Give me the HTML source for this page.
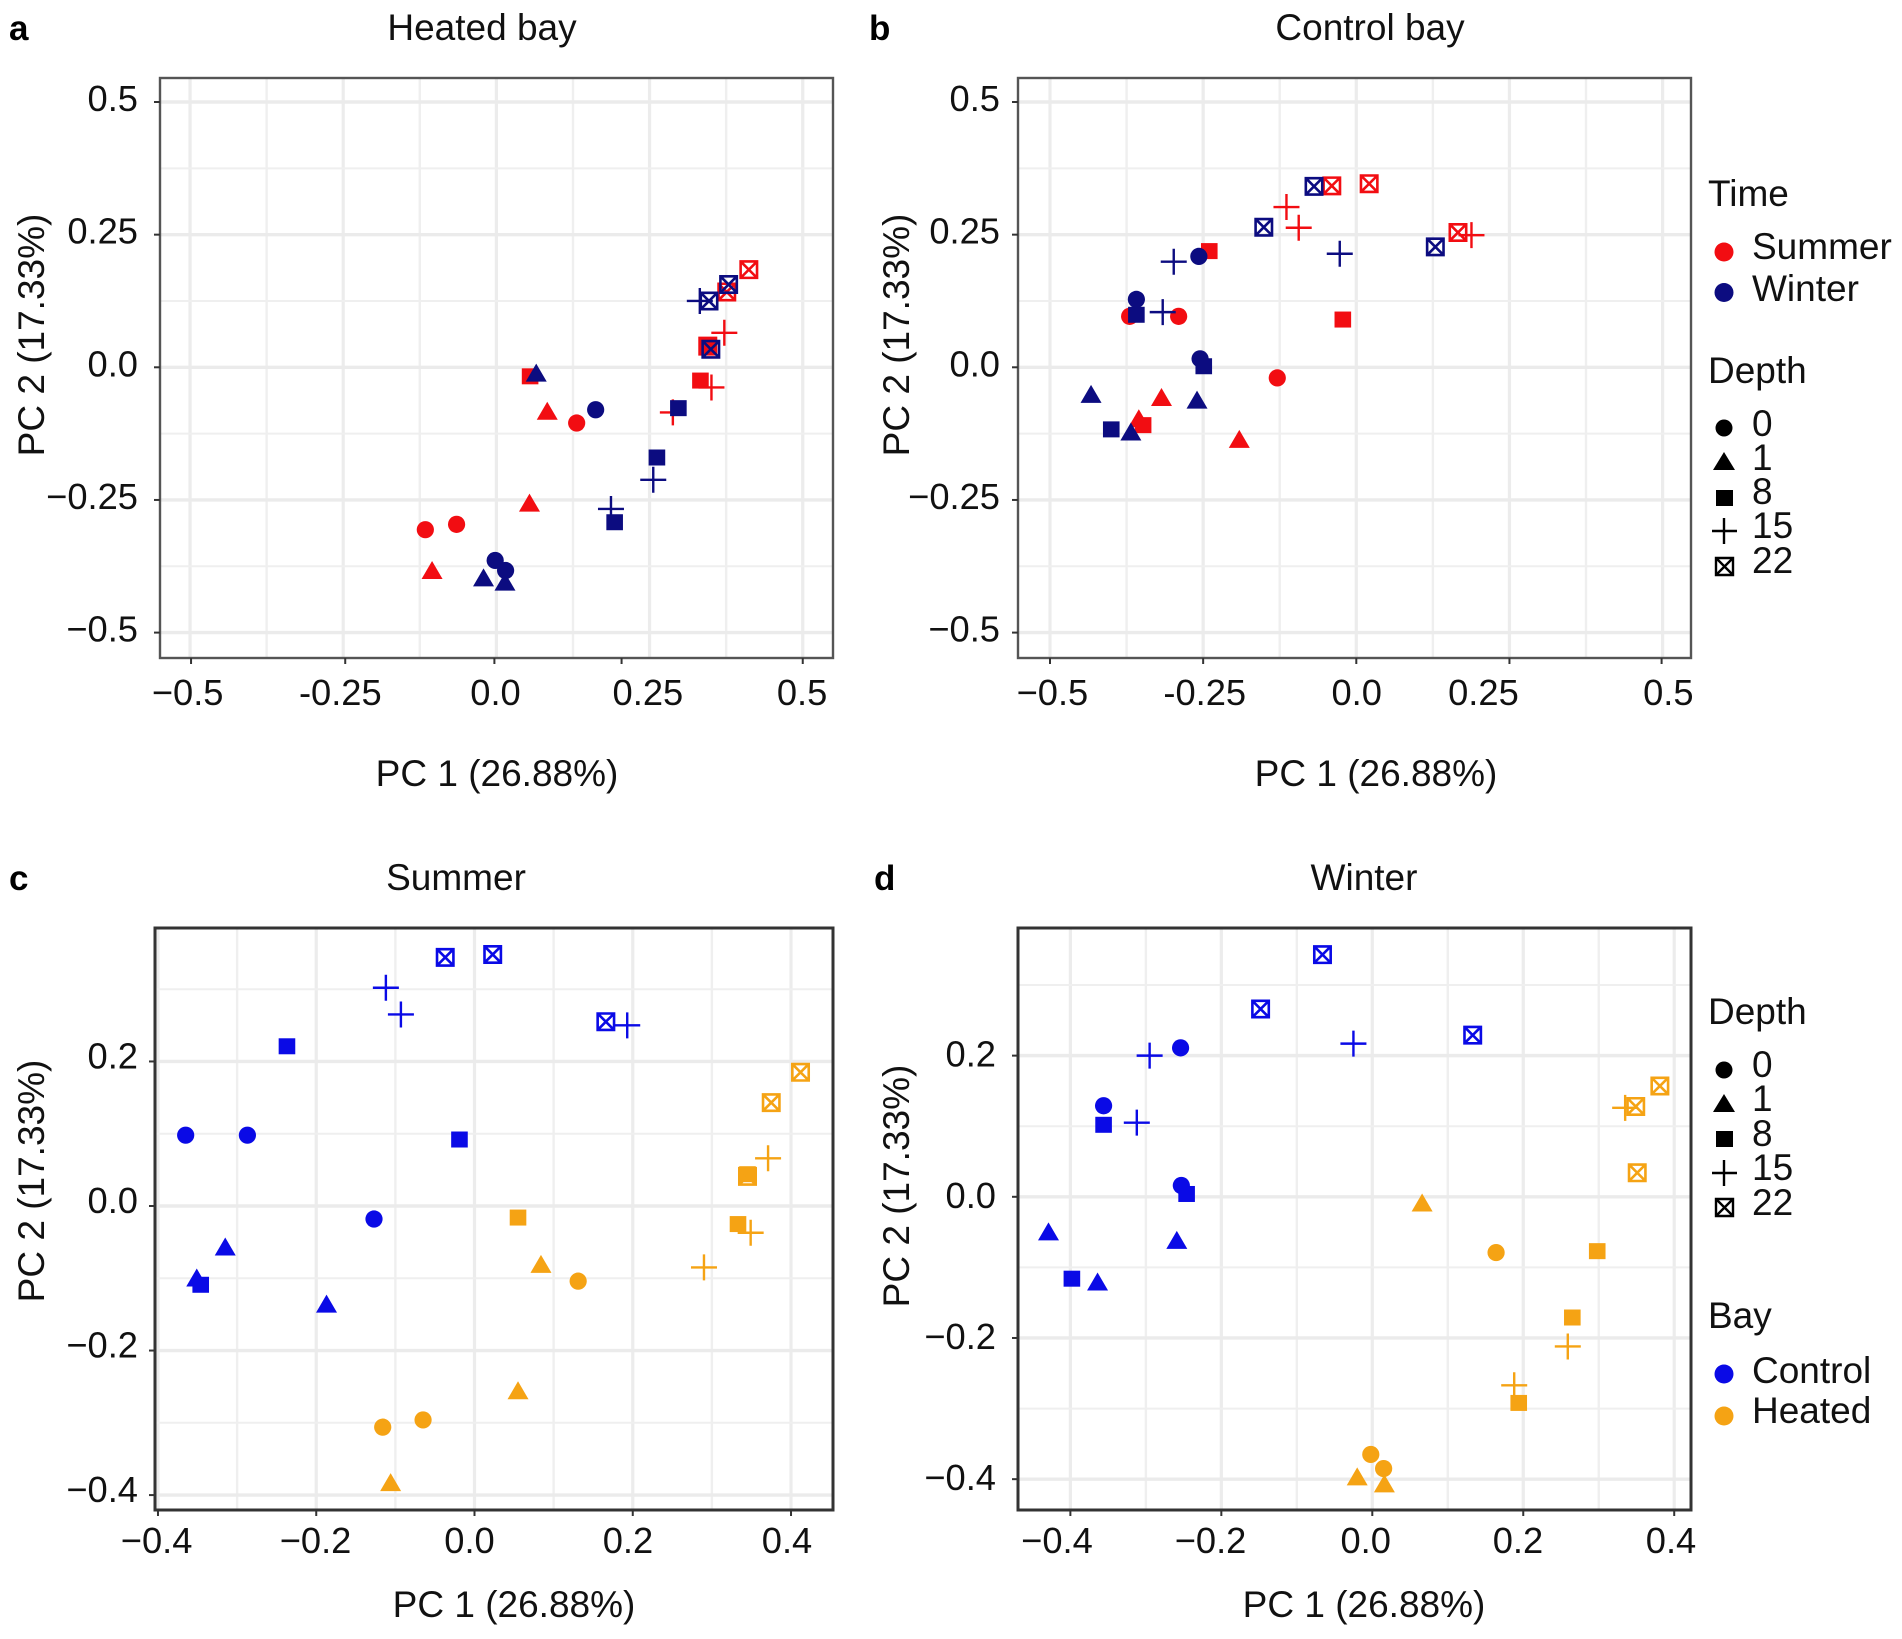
<!DOCTYPE html>
<html lang="en">
<head>
<meta charset="utf-8">
<title>PCA of heated and control bays</title>
<style>
html,body{margin:0;padding:0;background:#fff;}
svg{display:block;}
text{font-family:"Liberation Sans",Arial,sans-serif;font-size:37px;fill:#111;}
.tick-label{font-size:36.3px;}
.letter{font-weight:bold;font-size:35px;fill:#000;}
</style>
</head>
<body>
<svg id="figure" xmlns="http://www.w3.org/2000/svg" width="1902" height="1639" viewBox="0 0 1902 1639">
<rect x="0" y="0" width="1902" height="1639" fill="#fff"/>
<g id="panels"></g>

<text class="letter" x="9" y="40">a</text>
<text class="letter" x="869" y="40">b</text>
<text class="letter" x="9" y="890">c</text>
<text class="letter" x="874" y="890">d</text>

<text x="482" y="40" text-anchor="middle">Heated bay</text>
<text x="1370" y="40" text-anchor="middle">Control bay</text>
<text x="456" y="890" text-anchor="middle">Summer</text>
<text x="1364" y="890" text-anchor="middle">Winter</text>

<text x="497" y="786" text-anchor="middle">PC 1 (26.88%)</text>
<text x="1376" y="786" text-anchor="middle">PC 1 (26.88%)</text>
<text x="514" y="1617" text-anchor="middle">PC 1 (26.88%)</text>
<text x="1364" y="1617" text-anchor="middle">PC 1 (26.88%)</text>

<text transform="translate(44 335) rotate(-90)" text-anchor="middle">PC 2 (17.33%)</text>
<text transform="translate(909 335) rotate(-90)" text-anchor="middle">PC 2 (17.33%)</text>
<text transform="translate(44 1181) rotate(-90)" text-anchor="middle">PC 2 (17.33%)</text>
<text transform="translate(909 1186) rotate(-90)" text-anchor="middle">PC 2 (17.33%)</text>

<g>
  <text x="1708" y="206">Time</text>
  <circle cx="1724" cy="252" r="9.5" fill="#f20d12"/>
  <text x="1752" y="259">Summer</text>
  <circle cx="1724" cy="292.5" r="9.5" fill="#0c0c80"/>
  <text x="1752" y="301">Winter</text>
</g>
<g id="legend-depth-b">
  <text x="1708" y="383">Depth</text>
  <text x="1752" y="436">0</text>
  <text x="1752" y="470">1</text>
  <text x="1752" y="504">8</text>
  <text x="1752" y="538">15</text>
  <text x="1752" y="573">22</text>
  <circle cx="1724" cy="428" r="8.5" fill="#000"/>
  <polygon points="1713,470 1735,470 1724,452" fill="#000"/>
  <rect x="1716" y="490" width="17" height="16" fill="#000"/>
  <path d="M1712 531H1737M1724 518V544" stroke="#000" stroke-width="2.4" fill="none"/>
  <path d="M1716 558h17v17h-17zM1716 558l17 17M1733 558l-17 17" stroke="#000" stroke-width="2.4" fill="none"/>
</g>
<g id="legend-depth-d">
  <text x="1708" y="1024">Depth</text>
  <text x="1752" y="1077">0</text>
  <text x="1752" y="1111">1</text>
  <text x="1752" y="1146">8</text>
  <text x="1752" y="1180">15</text>
  <text x="1752" y="1215">22</text>
  <circle cx="1724" cy="1070" r="8.5" fill="#000"/>
  <polygon points="1713,1112 1735,1112 1724,1094" fill="#000"/>
  <rect x="1716" y="1131" width="17" height="16" fill="#000"/>
  <path d="M1712 1173H1737M1724 1160V1186" stroke="#000" stroke-width="2.4" fill="none"/>
  <path d="M1716 1199h17v17h-17zM1716 1199l17 17M1733 1199l-17 17" stroke="#000" stroke-width="2.4" fill="none"/>
</g>
<g>
  <text x="1708" y="1328">Bay</text>
  <circle cx="1724" cy="1374" r="9.5" fill="#0a0ae6"/>
  <text x="1752" y="1383">Control</text>
  <circle cx="1724" cy="1416" r="9.5" fill="#f5a314"/>
  <text x="1752" y="1423">Heated</text>
</g>
</svg>

<script>
// Depth of each sample, in the same order as every value array below
const depthLevels = [0,0,0,1,1,1,8,8,8,15,15,15,22,22,22];

// Tick values and labels
const ticksAB = [-0.5,-0.25,0,0.25,0.5];
const xTicksCD = [-0.4,-0.2,0,0.2,0.4];
const yTicksCD = [-0.4,-0.2,0,0.2];
const xLabelsAB = ['\u22120.5','-0.25','0.0','0.25','0.5'];
const yLabelsAB = ['\u22120.5','\u22120.25','0.0','0.25','0.5'];
const xLabelsCD = ['\u22120.4','\u22120.2','0.0','0.2','0.4'];
const yLabelsCD = ['\u22120.4','\u22120.2','0.0','0.2'];

// Panel a: heated bay
const aSummerPC1 = [-0.116,-0.065,0.131,-0.105,0.054,0.083,0.055,0.333,0.345,0.288,0.351,0.372,0.412,0.376,0.345];
const aSummerPC2 = [-0.306,-0.296,-0.105,-0.382,-0.255,-0.082,-0.017,-0.025,0.042,-0.085,-0.038,0.065,0.184,0.142,0.040];
const aWinterPC1 = [-0.002,0.015,0.162,-0.021,0.014,0.065,0.193,0.262,0.297,0.187,0.256,0.332,0.350,0.347,0.379];
const aWinterPC2 = [-0.364,-0.383,-0.080,-0.396,-0.404,-0.010,-0.292,-0.170,-0.077,-0.267,-0.212,0.125,0.034,0.125,0.156];

// Panel b: control bay
const bSummerPC1 = [-0.370,-0.290,-0.129,-0.355,-0.318,-0.191,-0.348,-0.240,-0.022,-0.114,-0.094,0.188,-0.040,0.021,0.166];
const bSummerPC2 = [0.096,0.096,-0.020,-0.096,-0.056,-0.135,-0.109,0.219,0.090,0.302,0.263,0.249,0.342,0.346,0.254];
const bWinterPC1 = [-0.359,-0.255,-0.257,-0.433,-0.368,-0.260,-0.400,-0.359,-0.249,-0.316,-0.298,-0.027,-0.151,-0.069,0.129];
const bWinterPC2 = [0.128,0.016,0.209,-0.050,-0.121,-0.061,-0.117,0.099,0.002,0.104,0.199,0.214,0.264,0.341,0.227];

// Panel c: summer
const cControlPC1 = [-0.365,-0.287,-0.127,-0.351,-0.315,-0.187,-0.346,-0.237,-0.019,-0.112,-0.093,0.193,-0.037,0.023,0.166];
const cControlPC2 = [0.098,0.098,-0.018,-0.099,-0.056,-0.135,-0.109,0.221,0.092,0.302,0.265,0.250,0.344,0.348,0.255];
const cHeatedPC1 = [-0.116,-0.065,0.131,-0.106,0.055,0.084,0.055,0.333,0.345,0.290,0.349,0.371,0.412,0.375,0.345];
const cHeatedPC2 = [-0.306,-0.296,-0.104,-0.382,-0.255,-0.080,-0.016,-0.025,0.044,-0.085,-0.037,0.066,0.185,0.143,0.041];

// Panel d: winter
const dControlPC1 = [-0.254,-0.356,-0.253,-0.429,-0.364,-0.259,-0.398,-0.356,-0.246,-0.312,-0.295,-0.025,-0.148,-0.066,0.133];
const dControlPC2 = [0.211,0.129,0.016,-0.049,-0.120,-0.061,-0.116,0.102,0.004,0.105,0.200,0.217,0.266,0.343,0.229];
const dHeatedPC1 = [-0.002,0.015,0.164,-0.020,0.016,0.066,0.194,0.265,0.298,0.188,0.259,0.335,0.351,0.349,0.381];
const dHeatedPC2 = [-0.365,-0.385,-0.079,-0.396,-0.406,-0.008,-0.292,-0.171,-0.077,-0.267,-0.212,0.126,0.034,0.128,0.157];

const SVGNS = 'http://www.w3.org/2000/svg';
const root = document.getElementById('panels');

function make(tag, parent, attrs) {
  const el = document.createElementNS(SVGNS, tag);
  for (const k in attrs) el.setAttribute(k, attrs[k]);
  parent.appendChild(el);
  return el;
}

function drawMarker(parent, depth, px, py, color) {
  let el;
  if (depth === 0) {
    el = make('circle', parent, {cx: px, cy: py, r: 8.6, fill: color});
    
  } else if (depth === 1) {
    el = make('polygon', parent, {points: (px-10.5)+','+(py+9)+' '+(px+10.5)+','+(py+9)+' '+px+','+(py-9), fill: color});
    
  } else if (depth === 8) {
    el = make('rect', parent, {x: px-8.3, y: py-8, width: 16.6, height: 16, fill: color});
    
  } else if (depth === 15) {
    const d = 'M'+(px-13)+' '+py+'H'+(px+13)+'M'+px+' '+(py-13)+'V'+(py+13);
    el = make('path', parent, {d: d, stroke: color, 'stroke-width': 2.4, fill: 'none'});
    
  } else {
    const s = 8.2;
    const d = 'M'+(px-s)+' '+(py-s)+'h'+(2*s)+'v'+(2*s)+'h'+(-2*s)+'zl'+(2*s)+' '+(2*s)+'M'+(px+s)+' '+(py-s)+'l'+(-2*s)+' '+(2*s);
    el = make('path', parent, {d: d, stroke: color, 'stroke-width': 2.6, fill: 'none'});
    
  }
  
}

function drawPanel(cfg) {
  const g = make('g', root, {});
  
  
  const sx = v => cfg.x0 + v * cfg.xUnit;
  const sy = v => cfg.y0 - v * cfg.yUnit;

  const grid = make('g', g, {});
  
  
  const step = cfg.xTicks[1] - cfg.xTicks[0];
  cfg.xTicks.forEach((t, i) => {
    const x1 = make('line', grid, {x1: sx(t), x2: sx(t), y1: cfg.top, y2: cfg.bottom, stroke: '#ececec', 'stroke-width': 3.2});
    
    
    if (i < cfg.xTicks.length - 1) {
      const m = make('line', grid, {x1: sx(t+step/2), x2: sx(t+step/2), y1: cfg.top, y2: cfg.bottom, stroke: '#efefef', 'stroke-width': 2.4});
      
      
    }
  });
  cfg.yTicks.forEach((t, i) => {
    const y1 = make('line', grid, {x1: cfg.left, x2: cfg.right, y1: sy(t), y2: sy(t), stroke: '#ebebeb', 'stroke-width': 3.4});
    
    
    if (i < cfg.yTicks.length - 1 || cfg.extraTopMinor) {
      const m = make('line', grid, {x1: cfg.left, x2: cfg.right, y1: sy(t+step/2), y2: sy(t+step/2), stroke: '#efefef', 'stroke-width': 2});
      
      
    }
  });

  cfg.series.forEach(s => {
    s.pc1.forEach((v, i) => drawMarker(g, depthLevels[i], sx(v), sy(s.pc2[i]), s.color));
  });

  const frame = make('rect', g, {x: cfg.left, y: cfg.top, width: cfg.right-cfg.left, height: cfg.bottom-cfg.top, fill: 'none', stroke: cfg.frame, 'stroke-width': cfg.frameWidth});
  
  

  cfg.xTicks.forEach((t, i) => {
    const tx = sx(t) + cfg.tickShift[i];
    const tk = make('line', g, {x1: tx, x2: tx, y1: cfg.bottom, y2: cfg.bottom+6, stroke: '#333', 'stroke-width': 2});
    
    
    const lb = make('text', g, {x: sx(t)+cfg.xShift[i], y: cfg.bottom+cfg.xLabelGap, 'text-anchor': 'middle', 'class': 'tick-label'});
    
    
    lb.textContent = cfg.xLabels[i];
  });
  cfg.yTicks.forEach((t, i) => {
    const tk = make('line', g, {x1: cfg.left-6, x2: cfg.left, y1: sy(t), y2: sy(t), stroke: '#333', 'stroke-width': 2});
    
    
    const lb = make('text', g, {x: cfg.yLabelRight, y: sy(t)+cfg.yLabelDrop, 'text-anchor': 'end', 'class': 'tick-label'});
    
    
    lb.textContent = cfg.yLabels[i];
  });
}

const RED = '#f20d12', NAVY = '#0c0c80', BLUE = '#0a0ae6', ORANGE = '#f5a314';

drawPanel({left:160,right:833,top:78,bottom:658,x0:496.4,xUnit:612.7,y0:367.3,yUnit:530.6,frame:'#555',frameWidth:2.4,
  xTicks:ticksAB,yTicks:ticksAB,xLabels:xLabelsAB,yLabels:yLabelsAB,
  xShift:[-2.4,-2.9,-0.9,-1.7,-0.7],tickShift:[1,2,-2,-28,0],xLabelGap:47,yLabelRight:138,yLabelDrop:9,
  series:[{pc1:aSummerPC1,pc2:aSummerPC2,color:RED},{pc1:aWinterPC1,pc2:aWinterPC2,color:NAVY}]});
drawPanel({left:1018,right:1691,top:78,bottom:658,x0:1356.3,xUnit:612.6,y0:367.3,yUnit:530.6,frame:'#555',frameWidth:2.4,
  xTicks:ticksAB,yTicks:ticksAB,xLabels:xLabelsAB,yLabels:yLabelsAB,
  xShift:[2.4,1.6,0.4,-26,5.7],tickShift:[0,0,0,0,-1],xLabelGap:47,yLabelRight:1000,yLabelDrop:9,
  series:[{pc1:bSummerPC1,pc2:bSummerPC2,color:RED},{pc1:bWinterPC1,pc2:bWinterPC2,color:NAVY}]});
drawPanel({left:155,right:833,top:928,bottom:1510,x0:474.5,xUnit:791.3,y0:1206,yUnit:722.7,frame:'#333',frameWidth:3,extraTopMinor:true,
  xTicks:xTicksCD,yTicks:yTicksCD,xLabels:xLabelsCD,yLabels:yLabelsCD,
  xShift:[-1.4,-0.7,-5,-4.8,-4],tickShift:[0,0,0,0,0],xLabelGap:43,yLabelRight:138,yLabelDrop:7,
  series:[{pc1:cControlPC1,pc2:cControlPC2,color:BLUE},{pc1:cHeatedPC1,pc2:cHeatedPC2,color:ORANGE}]});
drawPanel({left:1018,right:1691,top:928,bottom:1510,x0:1372.3,xUnit:754.8,y0:1196.8,yUnit:705.9,frame:'#333',frameWidth:3,extraTopMinor:true,
  xTicks:xTicksCD,yTicks:yTicksCD,xLabels:xLabelsCD,yLabels:yLabelsCD,
  xShift:[-13.4,-10.8,-6.6,-5.3,-3.2],tickShift:[0,0,0,0,0],xLabelGap:43,yLabelRight:996,yLabelDrop:11,
  series:[{pc1:dControlPC1,pc2:dControlPC2,color:BLUE},{pc1:dHeatedPC1,pc2:dHeatedPC2,color:ORANGE}]});
</script>
</body>
</html>
